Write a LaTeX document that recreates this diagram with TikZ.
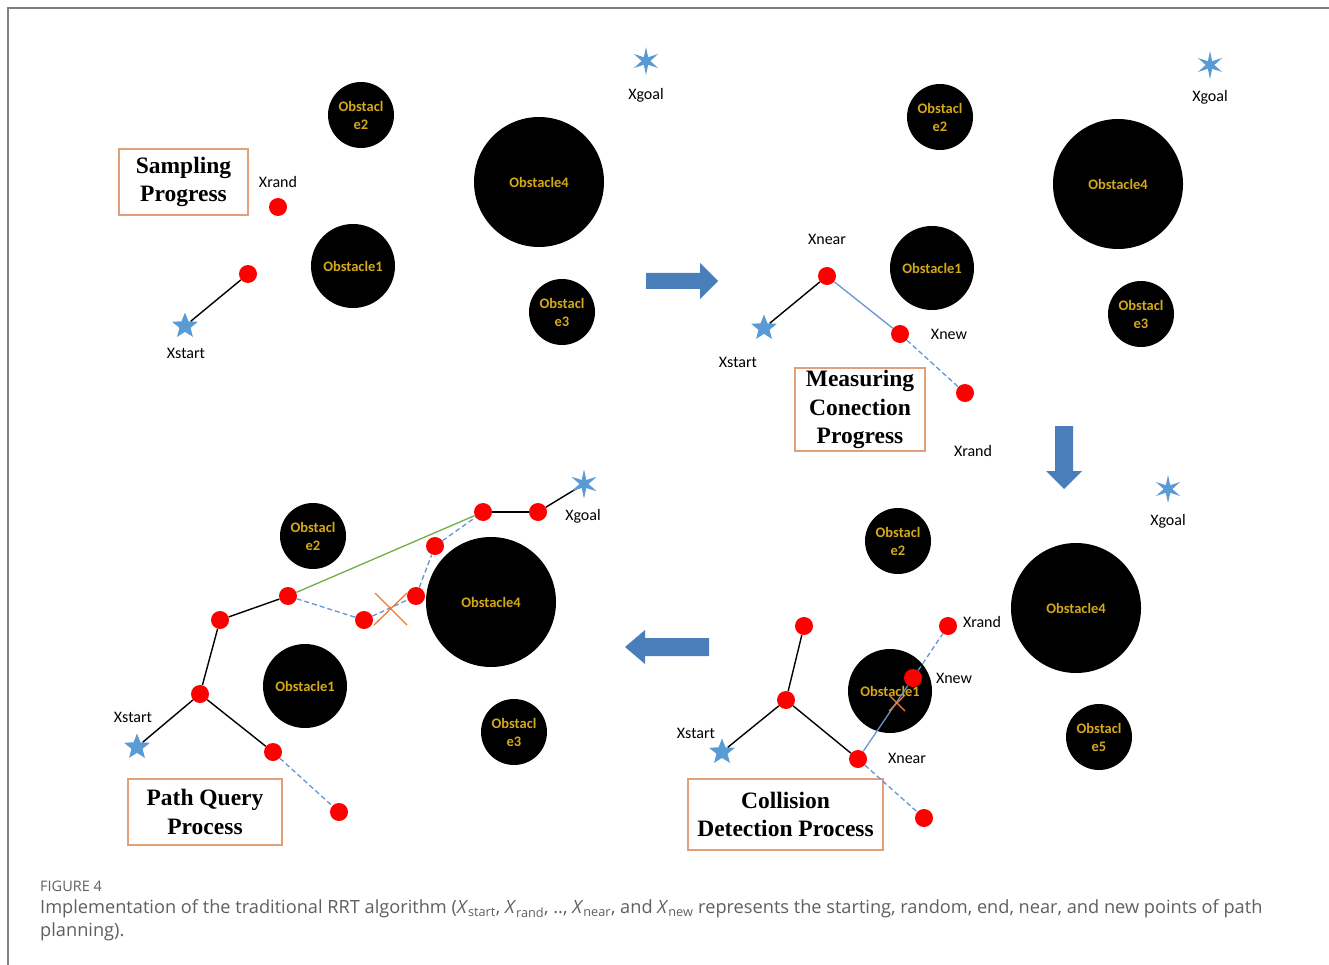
\documentclass[tikz,border=0pt]{standalone}
\usepackage{fontspec}
\setmainfont{Liberation Serif}
\newfontfamily\labfont{Carlito}
\newfontfamily\capfont{Open Sans}
\usetikzlibrary{shapes.geometric}
\definecolor{starblue}{RGB}{91,155,213}
\definecolor{arrowblue}{RGB}{74,126,187}
\definecolor{dashblue}{RGB}{100,150,210}
\definecolor{obsgold}{RGB}{212,168,24}
\definecolor{boxorange}{RGB}{225,160,120}
\definecolor{crossorange}{RGB}{237,125,49}
\definecolor{framegray}{RGB}{128,128,128}
\definecolor{capgray}{RGB}{95,95,95}
\definecolor{linegreen}{RGB}{112,173,71}
\newcommand\Xsub[1]{\textit{X}\textsubscript{#1}}
\begin{document}
\begin{tikzpicture}[x=1pt,y=-1pt,
 obs/.style={circle,fill=black,inner sep=0pt,minimum size=#1,text=obsgold,font=\labfont\bfseries\fontsize{14.5}{18}\selectfont,align=center},
 dot/.style={circle,fill=red,inner sep=0pt,minimum size=18pt},
 startstar/.style={star,star points=5,star point ratio=2.3,fill=starblue,inner sep=0pt,minimum size=27pt},
 goalstar/.style={star,star points=6,star point ratio=3.2,fill=starblue,inner sep=0pt,minimum size=28pt},
 lab/.style={font=\labfont\fontsize{16}{18}\selectfont,inner sep=0pt},
 stagebox/.style={draw=boxorange,line width=1.3pt,fill=white,align=center,inner sep=0pt,font=\bfseries\fontsize{23.5}{28.5}\selectfont},
 tree/.style={line width=1.4pt,black},
 dsh/.style={dashblue,line width=1.3pt,dash pattern=on 5pt off 3pt},
 solidblue/.style={dashblue,line width=1.3pt},
 greenline/.style={linegreen,line width=1.3pt},
 crossline/.style={crossorange,line width=1.3pt},
 blockarrow/.style={fill=arrowblue},
 capstyle/.style={anchor=west,inner sep=0pt,text=capgray}
]
\useasboundingbox (0,0) rectangle (1329,965);
\draw[framegray,line width=1.5pt] (1329,8) -- (8,8) -- (8,965);

% ---------- Panel 1: Sampling ----------
\node[obs=66pt] (a-o2) at (361,115) {Obstacl\\e2};
\node[obs=130pt] (a-o4) at (539,182) {Obstacle4};
\node[obs=84pt] (a-o1) at (353,266) {Obstacle1};
\node[obs=66pt] (a-o3) at (562,312) {Obstacl\\e3};
\node[goalstar] (a-goal) at (646,61) {};
\node[lab] (a-goall) at (646,95) {Xgoal};
\node[stagebox,minimum width=129pt,minimum height=66pt] (a-box) at (183.5,182) {Sampling\\Progress};
\node[lab] (a-randl) at (278,182) {Xrand};
\node[dot] (a-rand) at (278,207) {};
\node[dot] (a-n1) at (248,274) {};
\node[startstar] (a-start) at (185,326) {};
\node[lab] (a-startl) at (186,353) {Xstart};
\draw[tree] (a-start) -- (a-n1);

% arrow right
\fill[blockarrow] (646,273) -- (700,273) -- (700,263) -- (718,281) -- (700,299) -- (700,289) -- (646,289) -- cycle;

% ---------- Panel 2: Measuring ----------
\node[obs=66pt] (b-o2) at (940,117) {Obstacl\\e2};
\node[obs=130pt] (b-o4) at (1118,184) {Obstacle4};
\node[obs=84pt] (b-o1) at (932,268) {Obstacle1};
\node[obs=66pt] (b-o3) at (1141,314) {Obstacl\\e3};
\node[goalstar] (b-goal) at (1210,65) {};
\node[lab] (b-goall) at (1210,97) {Xgoal};
\node[lab] (b-nearl) at (827,239) {Xnear};
\node[dot] (b-near) at (827,276) {};
\node[startstar] (b-start) at (764,328) {};
\node[lab] (b-startl) at (738,362) {Xstart};
\node[dot] (b-new) at (900,334) {};
\node[lab] (b-newl) at (949,334) {Xnew};
\node[dot] (b-rand) at (965,393) {};
\node[lab] (b-randl) at (973,451) {Xrand};
\node[stagebox,minimum width=130pt,minimum height=83pt] (b-box) at (860,409.5) {Measuring\\Conection\\Progress};
\draw[tree] (b-start) -- (b-near);
\draw[solidblue] (b-near) -- (b-new);
\draw[dsh] (b-new) -- (b-rand);

% arrow down
\fill[blockarrow] (1055,426) -- (1073,426) -- (1073,471) -- (1082,471) -- (1064,489) -- (1046,471) -- (1055,471) -- cycle;

% ---------- Panel 3: Collision ----------
\node[goalstar] (c-goal) at (1168,489) {};
\node[lab] (c-goall) at (1168,521) {Xgoal};
\node[obs=66pt] (c-o2) at (898,541) {Obstacl\\e2};
\node[obs=130pt] (c-o4) at (1076,608) {Obstacle4};
\node[obs=84pt] (c-o1) at (890,691) {Obstacle1};
\node[obs=66pt] (c-o5) at (1099,737) {Obstacl\\e5};
\node[dot] (c-rand) at (948,626) {};
\node[lab] (c-randl) at (982,622) {Xrand};
\node[dot] (c-new) at (913,678) {};
\node[lab] (c-newl) at (954,678) {Xnew};
\node[dot] (c-near) at (858,759) {};
\node[lab] (c-nearl) at (907,758) {Xnear};
\node[dot] (c-n1) at (804,626) {};
\node[dot] (c-n2) at (786,700) {};
\node[dot] (c-n3) at (924,818) {};
\node[startstar] (c-start) at (722,752) {};
\node[lab] (c-startl) at (696,733) {Xstart};
\node[stagebox,minimum width=195pt,minimum height=71pt] (c-box) at (785.5,814.5) {Collision\\Detection Process};
\draw[tree] (c-start) -- (c-n2);
\draw[tree] (c-n2) -- (c-n1);
\draw[tree] (c-n2) -- (c-near);
\draw[solidblue] (c-near) -- (c-new);
\draw[dsh] (c-new) -- (c-rand);
\draw[dsh] (c-near) -- (c-n3);
\coordinate (c-x) at (897,703);
\draw[crossline] ([shift={(-8,-8)}]c-x) -- ([shift={(8,8)}]c-x);
\draw[crossline] ([shift={(8,-8)}]c-x) -- ([shift={(-8,8)}]c-x);

% arrow left
\fill[blockarrow] (709,638) -- (645,638) -- (645,630) -- (625,647) -- (645,664) -- (645,656) -- (709,656) -- cycle;

% ---------- Panel 4: Path query ----------
\node[obs=66pt] (d-o2) at (313,536) {Obstacl\\e2};
\node[obs=130pt] (d-o4) at (491,602) {Obstacle4};
\node[obs=84pt] (d-o1) at (305,686) {Obstacle1};
\node[obs=66pt] (d-o3) at (514,732) {Obstacl\\e3};
\node[goalstar] (d-goal) at (584,484) {};
\node[lab] (d-goall) at (583,516) {Xgoal};
\node[dot] (d-p1) at (483,512) {};
\node[dot] (d-p2) at (538,512) {};
\node[dot] (d-p3) at (435,546) {};
\node[dot] (d-p4) at (416,596) {};
\node[dot] (d-p5) at (364,620) {};
\node[dot] (d-p6) at (288,596) {};
\node[dot] (d-p7) at (220,620) {};
\node[dot] (d-p8) at (200,694) {};
\node[dot] (d-p9) at (273,752) {};
\node[dot] (d-p10) at (339,812) {};
\node[startstar] (d-start) at (137,747) {};
\node[lab] (d-startl) at (133,717) {Xstart};
\node[stagebox,minimum width=154pt,minimum height=66pt] (d-box) at (205,812) {Path Query\\Process};
\draw[tree] (d-start) -- (d-p8);
\draw[tree] (d-p8) -- (d-p7);
\draw[tree] (d-p7) -- (d-p6);
\draw[tree] (d-p8) -- (d-p9);
\draw[tree] (d-p1) -- (d-p2);
\draw[tree] (d-p2) -- (d-goal.center);
\draw[greenline] (d-p6) -- (d-p1);
\draw[dsh] (d-p6) -- (d-p5);
\draw[dsh] (d-p5) -- (d-p4);
\draw[dsh] (d-p4) -- (d-p3);
\draw[dsh] (d-p3) -- (d-p1);
\draw[dsh] (d-p9) -- (d-p10);
\coordinate (d-x) at (391,609);
\draw[crossline] ([shift={(-16,-16)}]d-x) -- ([shift={(16,16)}]d-x);
\draw[crossline] ([shift={(16,-16)}]d-x) -- ([shift={(-17,16)}]d-x);
\node[goalstar] at (d-goal) {};

% ---------- Caption ----------
\node[capstyle,font=\capfont\fontsize{14.5}{16}\selectfont] (cap-fig) at (40,886) {FIGURE 4};
\node[capstyle,font=\capfont\fontsize{18.2}{22}\selectfont] (cap-1) at (40,909) {Implementation of the traditional RRT algorithm (\Xsub{start}, \Xsub{rand}, .., \Xsub{near}, and \Xsub{new} represents the starting, random, end, near, and new points of path};
\node[capstyle,font=\capfont\fontsize{18.2}{22}\selectfont] (cap-2) at (40,932) {planning).};
\end{tikzpicture}
\end{document}
